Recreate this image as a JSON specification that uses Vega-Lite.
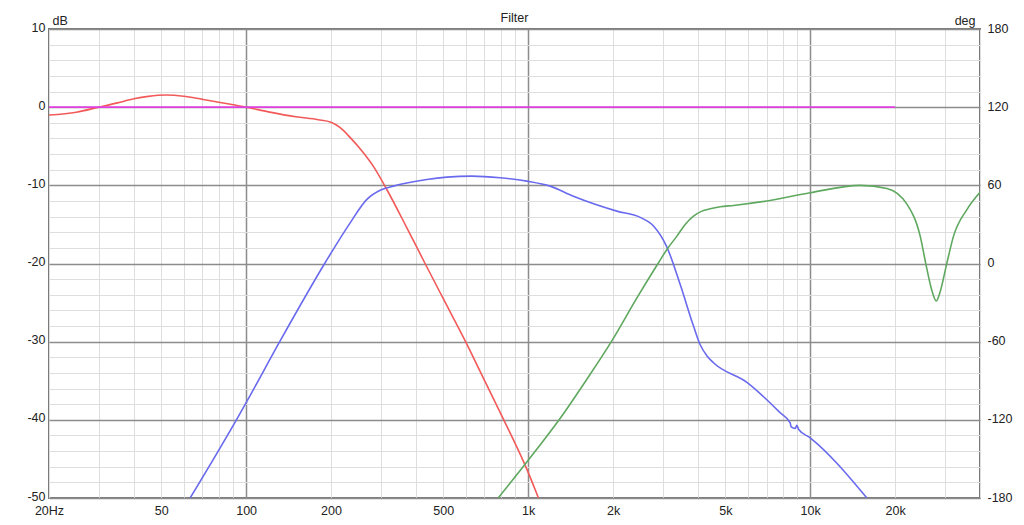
{
  "$schema": "https://vega.github.io/schema/vega-lite/v6.json",
  "width": 931,
  "height": 469,
  "autosize": {"type": "none"},
  "padding": {"left": 49, "top": 29, "right": 44, "bottom": 27},
  "background": "white",
  "title": {
    "text": "Filter",
    "frame": "group",
    "anchor": "middle",
    "baseline": "bottom",
    "offset": -23,
    "font": "Liberation Sans",
    "fontSize": 12.5,
    "fontWeight": "normal",
    "color": "#222222"
  },
  "config": {
    "view": {"stroke": "#7a7a7a", "strokeWidth": 2},
    "axis": {
      "labelFont": "Liberation Sans",
      "labelFontSize": 12.5,
      "labelColor": "#222222",
      "titleFont": "Liberation Sans",
      "titleFontSize": 12.5,
      "titleFontWeight": "normal",
      "titleColor": "#222222",
      "ticks": false,
      "domain": false
    }
  },
  "data": {
    "values": [
      {"s": "woofer", "f": 20, "db": -1.0},
      {"s": "woofer", "f": 25, "db": -0.64},
      {"s": "woofer", "f": 30, "db": 0.0},
      {"s": "woofer", "f": 35, "db": 0.55},
      {"s": "woofer", "f": 40, "db": 1.07},
      {"s": "woofer", "f": 45, "db": 1.38},
      {"s": "woofer", "f": 52, "db": 1.55},
      {"s": "woofer", "f": 60, "db": 1.4},
      {"s": "woofer", "f": 70, "db": 1.0},
      {"s": "woofer", "f": 80, "db": 0.64},
      {"s": "woofer", "f": 90, "db": 0.3},
      {"s": "woofer", "f": 100, "db": 0.0},
      {"s": "woofer", "f": 120, "db": -0.6},
      {"s": "woofer", "f": 150, "db": -1.23},
      {"s": "woofer", "f": 180, "db": -1.6},
      {"s": "woofer", "f": 200, "db": -1.92},
      {"s": "woofer", "f": 215, "db": -2.6},
      {"s": "woofer", "f": 234, "db": -3.9},
      {"s": "woofer", "f": 260, "db": -5.8},
      {"s": "woofer", "f": 283, "db": -7.6},
      {"s": "woofer", "f": 315, "db": -10.5},
      {"s": "woofer", "f": 371, "db": -15.4},
      {"s": "woofer", "f": 431, "db": -20.0},
      {"s": "woofer", "f": 500, "db": -24.5},
      {"s": "woofer", "f": 598, "db": -29.9},
      {"s": "woofer", "f": 700, "db": -34.95},
      {"s": "woofer", "f": 817, "db": -39.9},
      {"s": "woofer", "f": 989, "db": -46.3},
      {"s": "woofer", "f": 1088, "db": -50},

      {"s": "mid", "f": 63.3, "db": -50},
      {"s": "mid", "f": 92.7, "db": -39.9},
      {"s": "mid", "f": 100, "db": -37.8},
      {"s": "mid", "f": 132, "db": -29.9},
      {"s": "mid", "f": 190.6, "db": -19.9},
      {"s": "mid", "f": 233.8, "db": -14.8},
      {"s": "mid", "f": 268, "db": -11.8},
      {"s": "mid", "f": 300, "db": -10.6},
      {"s": "mid", "f": 333, "db": -10.1},
      {"s": "mid", "f": 371, "db": -9.7},
      {"s": "mid", "f": 437, "db": -9.25},
      {"s": "mid", "f": 515, "db": -8.95},
      {"s": "mid", "f": 631, "db": -8.82},
      {"s": "mid", "f": 796, "db": -9.03},
      {"s": "mid", "f": 989, "db": -9.46},
      {"s": "mid", "f": 1197, "db": -10.1},
      {"s": "mid", "f": 1447, "db": -11.4},
      {"s": "mid", "f": 2062, "db": -13.3},
      {"s": "mid", "f": 2496, "db": -14.1},
      {"s": "mid", "f": 2782, "db": -15.2},
      {"s": "mid", "f": 3104, "db": -17.9},
      {"s": "mid", "f": 3460, "db": -22.7},
      {"s": "mid", "f": 3857, "db": -28.0},
      {"s": "mid", "f": 4074, "db": -30.4},
      {"s": "mid", "f": 4300, "db": -31.8},
      {"s": "mid", "f": 4540, "db": -32.7},
      {"s": "mid", "f": 5964, "db": -35.2},
      {"s": "mid", "f": 7828, "db": -39.1},
      {"s": "mid", "f": 8492, "db": -40.4},
      {"s": "mid", "f": 8560, "db": -40.9},
      {"s": "mid", "f": 8850, "db": -41.1},
      {"s": "mid", "f": 8972, "db": -40.7},
      {"s": "mid", "f": 9090, "db": -41.2},
      {"s": "mid", "f": 10000, "db": -42.3},
      {"s": "mid", "f": 15886, "db": -50},

      {"s": "tweeter", "f": 783, "db": -50},
      {"s": "tweeter", "f": 989, "db": -45.4},
      {"s": "tweeter", "f": 1299, "db": -39.8},
      {"s": "tweeter", "f": 1615, "db": -34.8},
      {"s": "tweeter", "f": 1980, "db": -29.9},
      {"s": "tweeter", "f": 2430, "db": -24.4},
      {"s": "tweeter", "f": 2898, "db": -19.9},
      {"s": "tweeter", "f": 3104, "db": -18.2},
      {"s": "tweeter", "f": 3368, "db": -16.5},
      {"s": "tweeter", "f": 3604, "db": -15.0},
      {"s": "tweeter", "f": 3857, "db": -13.95},
      {"s": "tweeter", "f": 4130, "db": -13.3},
      {"s": "tweeter", "f": 4421, "db": -13.0},
      {"s": "tweeter", "f": 4796, "db": -12.75},
      {"s": "tweeter", "f": 5346, "db": -12.57},
      {"s": "tweeter", "f": 7022, "db": -12.0},
      {"s": "tweeter", "f": 10000, "db": -10.95},
      {"s": "tweeter", "f": 15038, "db": -10.0},
      {"s": "tweeter", "f": 18706, "db": -10.4},
      {"s": "tweeter", "f": 22020, "db": -12.4},
      {"s": "tweeter", "f": 24548, "db": -16.5},
      {"s": "tweeter", "f": 25790, "db": -20.3},
      {"s": "tweeter", "f": 27080, "db": -23.6},
      {"s": "tweeter", "f": 27979, "db": -24.8},
      {"s": "tweeter", "f": 28900, "db": -23.6},
      {"s": "tweeter", "f": 30370, "db": -20.3},
      {"s": "tweeter", "f": 32224, "db": -16.5},
      {"s": "tweeter", "f": 35947, "db": -13.1},
      {"s": "tweeter", "f": 40000, "db": -10.9},

      {"s": "ref", "f": 20, "db": 0},
      {"s": "ref", "f": 20000, "db": 0}
    ]
  },
  "layer": [
    {
      "mark": {"type": "line", "interpolate": "monotone", "strokeWidth": 1.6, "clip": true},
      "encoding": {
        "x": {
          "field": "f",
          "type": "quantitative",
          "scale": {"type": "log", "domain": [20, 40000], "nice": false},
          "axis": {
            "title": null,
            "values": [20, 30, 40, 50, 60, 70, 80, 90, 100, 200, 300, 400, 500, 600, 700, 800, 900, 1000, 2000, 3000, 4000, 5000, 6000, 7000, 8000, 9000, 10000, 20000, 30000, 40000],
            "labelExpr": "datum.value == 20 ? '20Hz' : (indexof([50, 100, 200, 500, 1000, 2000, 5000, 10000, 20000], datum.value) >= 0 ? (datum.value >= 1000 ? (datum.value / 1000) + 'k' : '' + datum.value) : '')",
            "labelFlush": false,
            "labelOverlap": false,
            "labelPadding": 6,
            "grid": true,
            "gridColor": {"condition": {"test": "datum.value == 100 || datum.value == 1000 || datum.value == 10000", "value": "#8c8c8c"}, "value": "#dedede"},
            "gridWidth": {"condition": {"test": "datum.value == 100 || datum.value == 1000 || datum.value == 10000", "value": 1.5}, "value": 1}
          }
        },
        "y": {
          "field": "db",
          "type": "quantitative",
          "scale": {"domain": [-50, 10], "nice": false},
          "axis": {
            "title": "dB",
            "titleAngle": 0,
            "titleAlign": "left",
            "titleBaseline": "bottom",
            "titleX": 3,
            "titleY": -2,
            "values": [-50, -48, -46, -44, -42, -40, -38, -36, -34, -32, -30, -28, -26, -24, -22, -20, -18, -16, -14, -12, -10, -8, -6, -4, -2, 0, 2, 4, 6, 8, 10],
            "labelExpr": "datum.value % 10 == 0 ? '' + datum.value : ''",
            "labelOverlap": false,
            "labelFlush": false,
            "labelPadding": 4,
            "labelOffset": -2,
            "grid": true,
            "gridColor": {"condition": {"test": "datum.value % 10 == 0", "value": "#8c8c8c"}, "value": "#dedede"},
            "gridWidth": {"condition": {"test": "datum.value % 10 == 0", "value": 1.5}, "value": 1}
          }
        },
        "color": {
          "field": "s",
          "type": "nominal",
          "scale": {"domain": ["woofer", "mid", "tweeter", "ref"], "range": ["#f25a5a", "#6a6aee", "#5fa85f", "#e040e0"]},
          "legend": null
        }
      }
    },
    {
      "mark": {"type": "point", "opacity": 0},
      "encoding": {
        "x": {"field": "f", "type": "quantitative"},
        "y": {
          "datum": 0,
          "type": "quantitative",
          "scale": {"domain": [-180, 180], "nice": false},
          "axis": {
            "orient": "right",
            "title": "deg",
            "titleAngle": 0,
            "titleAlign": "right",
            "titleBaseline": "bottom",
            "titleX": -5,
            "titleY": -2,
            "values": [-180, -120, -60, 0, 60, 120, 180],
            "labelExpr": "'' + datum.value",
            "labelFlush": false,
            "labelOverlap": false,
            "labelPadding": 7,
            "labelOffset": -1,
            "grid": false
          }
        }
      }
    }
  ],
  "resolve": {"scale": {"y": "independent"}}
}
